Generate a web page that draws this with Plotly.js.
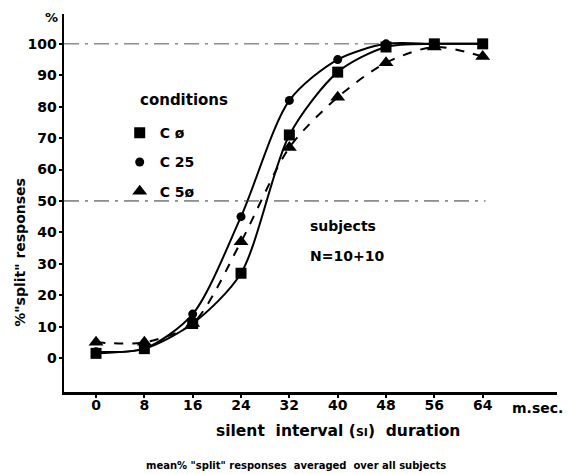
<!DOCTYPE html>
<html><head><meta charset="utf-8">
<script src="https://cdn.plot.ly/plotly-3.0.1.min.js"></script>
<style>html,body{margin:0;padding:0;background:#fff}#chart{width:575px;height:474px}</style>
</head><body><div id="chart"></div>
<script>
const silentInterval = [0, 8, 16, 24, 32, 40, 48, 56, 64];
const c0Values  = [1.5, 3, 11, 27, 71, 91, 99, 100, 100];
const c25Values = [2, 3, 14, 45, 82, 95, 100, 100, 100];
const c50Values = [5, 5, 11, 37, 67, 83, 94, 99, 96];
const seriesNames = ['C ø', 'C 25', 'C 5ø'];
const xTicks = [0, 8, 16, 24, 32, 40, 48, 56, 64];
const yTicks = [0, 10, 20, 30, 40, 50, 60, 70, 80, 90, 100];

const F = 'DejaVu Sans, Liberation Sans, Arial, sans-serif';
const series = [
  {name: seriesNames[0], y: c0Values, symbol: 'square', size: 11, dash: 'solid'},
  {name: seriesNames[1], y: c25Values, symbol: 'circle', size: 9, dash: 'solid'},
  {name: seriesNames[2], y: c50Values, symbol: 'triangle-up', size: 13, dash: 'dash'}
];
const traces = [];
series.forEach((s, i) => {
  traces.push({x: silentInterval, y: s.y, mode: 'lines', showlegend: false,
    line: {shape: 'spline', smoothing: 0.8, color: '#000', width: 2, dash: s.dash}, hoverinfo: 'skip'});
});
series.forEach((s, i) => {
  traces.push({x: silentInterval, y: s.y, mode: 'markers', name: '<b>' + s.name + '</b>',
    legendgroup: 'g' + i,
    marker: {symbol: s.symbol, size: s.size, color: '#000'}});
});

const layout = {
  width: 575, height: 474,
  margin: {l: 64, r: 18, t: 14, b: 82},
  paper_bgcolor: '#fff', plot_bgcolor: '#fff',
  font: {family: F, color: '#000', size: 14},
  showlegend: true,
  legend: {x: 0.113, y: 0.727, xanchor: 'left', yanchor: 'top', bgcolor: 'rgba(0,0,0,0)',
    font: {family: F, size: 14, color: '#000'}, tracegroupgap: 8},
  xaxis: {range: [-5.3, 76.3], tickvals: xTicks, ticktext: xTicks.map(v => '<b>' + v + '</b>'),
    showgrid: false, zeroline: false, showline: true, linecolor: '#000', linewidth: 2.5,
    ticks: 'outside', ticklen: 3, tickwidth: 2, tickcolor: '#000', ticklabelstandoff: -4,
    tickfont: {family: F, size: 14, color: '#000'}},
  yaxis: {range: [-10.8, 109.5], tickvals: yTicks, ticktext: yTicks.map(v => '<b>' + v + '</b>'),
    showgrid: false, zeroline: false, showline: true, linecolor: '#000', linewidth: 2.5,
    ticks: 'outside', ticklen: 3, tickwidth: 2, tickcolor: '#000', ticklabelstandoff: -1,
    tickfont: {family: F, size: 14, color: '#000'}},
  shapes: [
    {type: 'line', xref: 'paper', x0: 0, x1: 0.64, yref: 'y', y0: 100, y1: 100, line: {color: '#555', width: 1, dash: 'longdashdot'}},
    {type: 'line', xref: 'paper', x0: 0, x1: 0.855, yref: 'y', y0: 50, y1: 50, line: {color: '#333', width: 1, dash: 'longdashdot'}}
  ],
  annotations: [
    {text: '<b>%</b>', xref: 'paper', yref: 'paper', x: -0.025, y: 0.99, xanchor: 'center', yanchor: 'middle', showarrow: false, font: {size: 13}},
    {text: '<b>%"split" responses</b>', textangle: -90, xref: 'paper', yref: 'paper', x: -0.088, y: 0.37, xanchor: 'center', yanchor: 'middle', showarrow: false, font: {size: 14}},
    {text: '<b>conditions</b>', xref: 'paper', yref: 'paper', x: 0.150, y: 0.772, xanchor: 'left', yanchor: 'middle', showarrow: false, font: {size: 15}},
    {text: '<b>m.sec.</b>', xref: 'paper', yref: 'paper', x: 0.96, y: -0.015, xanchor: 'center', yanchor: 'top', showarrow: false, font: {size: 14}},
    {text: '<b>silent  interval (<span style="font-size:11px">SI</span>)  duration</b>', xref: 'paper', yref: 'paper', x: 0.555, y: -0.075, xanchor: 'center', yanchor: 'top', showarrow: false, font: {size: 15.5}},
    {text: '<b>subjects</b>', xref: 'paper', yref: 'paper', x: 0.495, y: 0.44, xanchor: 'left', yanchor: 'middle', showarrow: false, font: {size: 14}},
    {text: '<b>N=10+10</b>', xref: 'paper', yref: 'paper', x: 0.495, y: 0.36, xanchor: 'left', yanchor: 'middle', showarrow: false, font: {size: 14}},
    {text: '<b>mean% "split" responses  averaged  over all subjects</b>', xref: 'paper', yref: 'paper', x: 0.47, y: -0.195, xanchor: 'center', yanchor: 'middle', showarrow: false, font: {size: 10}}
  ]
};
Plotly.newPlot('chart', traces, layout, {staticPlot: true});
</script></body></html>
